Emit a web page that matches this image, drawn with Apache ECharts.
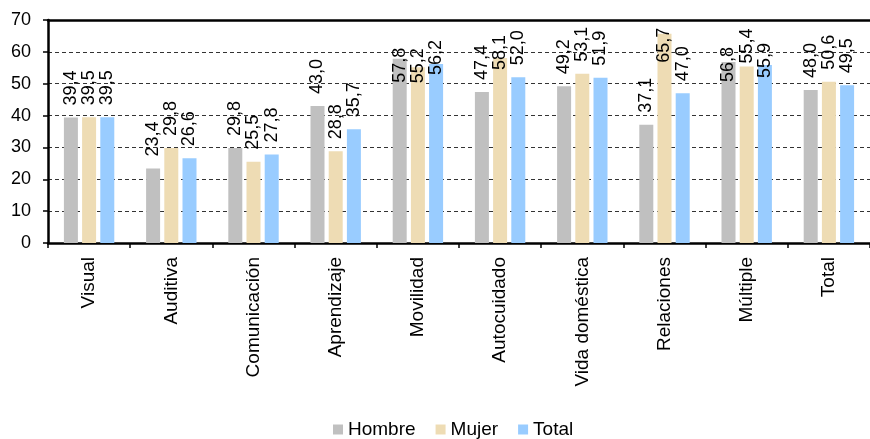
<!DOCTYPE html>
<html>
<head>
<meta charset="utf-8">
<script src="https://cdn.jsdelivr.net/npm/echarts@6/dist/echarts.min.js"></script>
<style>
  html, body { margin: 0; padding: 0; background: #fff; }
  #chart { width: 870px; height: 439px; }
</style>
</head>
<body>
<div id="chart"></div>
<script>
// Tipos de discapacidad
const categories = ['Visual', 'Auditiva', 'Comunicación', 'Aprendizaje', 'Movilidad',
  'Autocuidado', 'Vida doméstica', 'Relaciones', 'Múltiple', 'Total'];

const hombre = [39.4, 23.4, 29.8, 43.0, 57.8, 47.4, 49.2, 37.1, 56.8, 48.0];
const mujer  = [39.5, 29.8, 25.5, 28.8, 55.2, 58.1, 53.1, 65.7, 55.4, 50.6];
const total  = [39.5, 26.6, 27.8, 35.7, 56.2, 52.0, 51.9, 47.0, 55.9, 49.5];

const seriesNames = ['Hombre', 'Mujer', 'Total'];
const yTicks = [0, 10, 20, 30, 40, 50, 60, 70];

// Downward nudge (px) for value labels that would otherwise run past the top of the plot
const labelShiftHombre = [0, 0, 0, 0, 36, 0, 0, 0, 32, 0];
const labelShiftMujer  = [0, 0, 0, 0, 28, 24, 0, 41, 9, 0];
const labelShiftTotal  = [0, 0, 0, 0, 23, 0, 0, 0, 25, 0];

const FONT = "'Liberation Sans', Arial, sans-serif";
const colors = ['#C0C0C0', '#EEDCB4', '#99CCFF'];
const BASE_DIST = 12;

function fmt(v) { return v.toFixed(1).replace('.', ','); }

function buildSeries(name, values, shifts, color) {
  return {
    name: name,
    type: 'bar',
    barWidth: 14,
    barGap: '30%',
    itemStyle: { color: color },
    data: values.map((v, i) => ({
      value: v,
      label: { distance: BASE_DIST - shifts[i] }
    })),
    label: {
      show: true,
      position: 'top',
      rotate: 90,
      align: 'left',
      verticalAlign: 'middle',
      fontFamily: FONT,
      fontSize: 18,
      color: '#000',
      formatter: p => fmt(p.value)
    },
    z: 2
  };
}

const chart = echarts.init(document.getElementById('chart'), null, { renderer: 'canvas' });

chart.setOption({
  animation: false,
  backgroundColor: '#fff',
  textStyle: { fontFamily: FONT },
  legend: {
    data: seriesNames,
    left: 328,
    top: 415,
    icon: 'rect',
    itemWidth: 10,
    itemHeight: 10,
    itemGap: 20,
    textStyle: { fontFamily: FONT, fontSize: 19, color: '#000' }
  },
  grid: { left: 48, right: -7, top: 20, bottom: 196 },
  xAxis: [
    {
      type: 'category',
      data: categories,
      position: 'bottom',
      axisLine: { lineStyle: { color: '#000', width: 2.5 } },
      axisTick: { show: true, length: 5, lineStyle: { color: '#000', width: 1.5 } },
      axisLabel: {
        rotate: 90,
        margin: 14,
        fontFamily: FONT,
        fontSize: 19,
        color: '#000',
        interval: 0
      }
    },
    {
      // frame line along the top of the plot
      type: 'category',
      data: categories,
      position: 'top',
      axisLine: { lineStyle: { color: '#000', width: 2.5 } },
      axisTick: { show: false },
      axisLabel: { show: false }
    }
  ],
  yAxis: {
    type: 'value',
    min: yTicks[0],
    max: yTicks[yTicks.length - 1],
    interval: 10,
    axisLine: { show: true, lineStyle: { color: '#000', width: 2.5 } },
    axisTick: { show: true, length: 5, lineStyle: { color: '#000', width: 1.5 } },
    axisLabel: {
      margin: 17,
      fontFamily: FONT,
      fontSize: 18,
      color: '#000',
      formatter: v => String(v)
    },
    splitLine: { show: true, lineStyle: { color: '#333', width: 1, type: [4, 3] } }
  },
  series: [
    buildSeries(seriesNames[0], hombre, labelShiftHombre, colors[0]),
    buildSeries(seriesNames[1], mujer, labelShiftMujer, colors[1]),
    buildSeries(seriesNames[2], total, labelShiftTotal, colors[2])
  ]
});
</script>
</body>
</html>
